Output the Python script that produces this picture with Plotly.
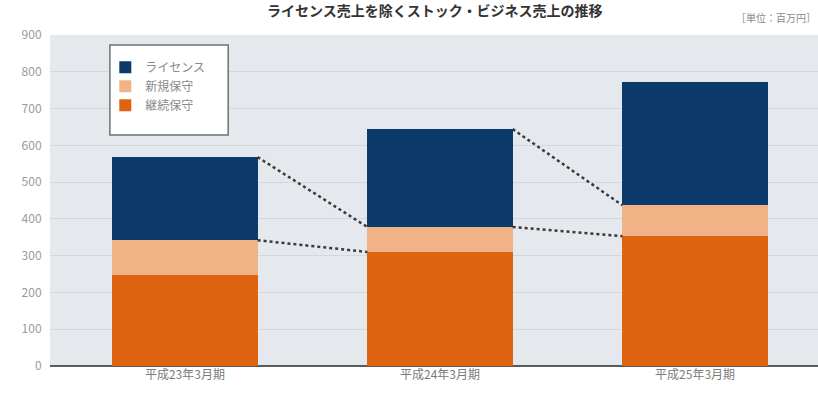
import plotly.graph_objects as go

categories = ["平成23年3月期", "平成24年3月期", "平成25年3月期"]
keizoku = [247, 310, 353]   # 継続保守
shinki = [95, 68, 84]       # 新規保守
license_ = [226, 266, 335]  # ライセンス
y_ticks = [0, 100, 200, 300, 400, 500, 600, 700, 800, 900]

FONT = "Noto Sans CJK JP"
C_LIC = "#0c3a6b"
C_NEW = "#f0b386"
C_CONT = "#df6412"
BW = 0.57

xs = list(range(len(categories)))
fig = go.Figure()
fig.add_trace(go.Bar(x=xs, y=keizoku, name="継続保守", marker=dict(color=C_CONT, line=dict(width=0)), width=BW))
fig.add_trace(go.Bar(x=xs, y=shinki, name="新規保守", marker=dict(color=C_NEW, line=dict(width=0)), width=BW))
fig.add_trace(go.Bar(x=xs, y=license_, name="ライセンス", marker=dict(color=C_LIC, line=dict(width=0)), width=BW))

stock = [a + b for a, b in zip(keizoku, shinki)]
total = [s + c for s, c in zip(stock, license_)]
for i in range(len(categories) - 1):
    x0 = xs[i] + BW / 2
    x1 = xs[i + 1] - BW / 2
    fig.add_trace(go.Scatter(x=[x0, x1], y=[total[i], stock[i + 1]], mode="lines",
                             line=dict(color="#3a3a3a", width=2.5, dash="dot"),
                             showlegend=False, hoverinfo="skip"))
    fig.add_trace(go.Scatter(x=[x0, x1], y=[stock[i], keizoku[i + 1]], mode="lines",
                             line=dict(color="#3a3a3a", width=2.5, dash="dot"),
                             showlegend=False, hoverinfo="skip"))

fig.update_layout(
    width=818, height=396,
    margin=dict(l=50, r=0, t=35, b=30),
    barmode="stack",
    paper_bgcolor="white",
    plot_bgcolor="#e5e8ed",
    font=dict(family=FONT, color="#8a8a8a", size=11),
    showlegend=True,
    legend=dict(
        x=0.072, y=0.946, xanchor="left", yanchor="top",
        bgcolor="rgba(0,0,0,0)", borderwidth=0,
        traceorder="reversed", font=dict(size=12, color="#8a8a8a"),
        tracegroupgap=0,
    ),
    shapes=[
        dict(type="rect", xref="paper", yref="paper", x0=0.078, x1=0.232, y0=0.698, y1=0.970,
             fillcolor="white", line=dict(color="#707070", width=1.5), layer="above"),
    ],
    xaxis=dict(
        tickmode="array", tickvals=xs, ticktext=categories,
        range=[-0.529, 2.482], showgrid=False, zeroline=False,
        ticks="", tickfont=dict(size=12, color="#7a7a7a"),
        showline=False,
    ),
    yaxis=dict(
        range=[0, 900], tickvals=y_ticks, showgrid=True,
        gridcolor="#d3d7dd", gridwidth=1, zeroline=True,
        zerolinecolor="#5a5a5a", zerolinewidth=2,
        ticks="outside", ticklen=5, tickcolor="white",
        tickfont=dict(size=12, color="#9a9a9a"),
    ),
    annotations=[
        dict(text="［単位：百万円］", xref="paper", yref="paper", x=1.0, y=1.0,
             xanchor="right", yanchor="bottom", showarrow=False,
             font=dict(size=10, color="#8a8a8a"), yshift=8),
        dict(text="<b>ライセンス売上を除くストック・ビジネス売上の推移</b>", xref="paper", yref="paper",
             x=0.50, y=1.0, xanchor="center", yanchor="bottom", showarrow=False,
             font=dict(size=14, color="#333333"), yshift=13),
    ],
)

fig.write_html("out.html")
